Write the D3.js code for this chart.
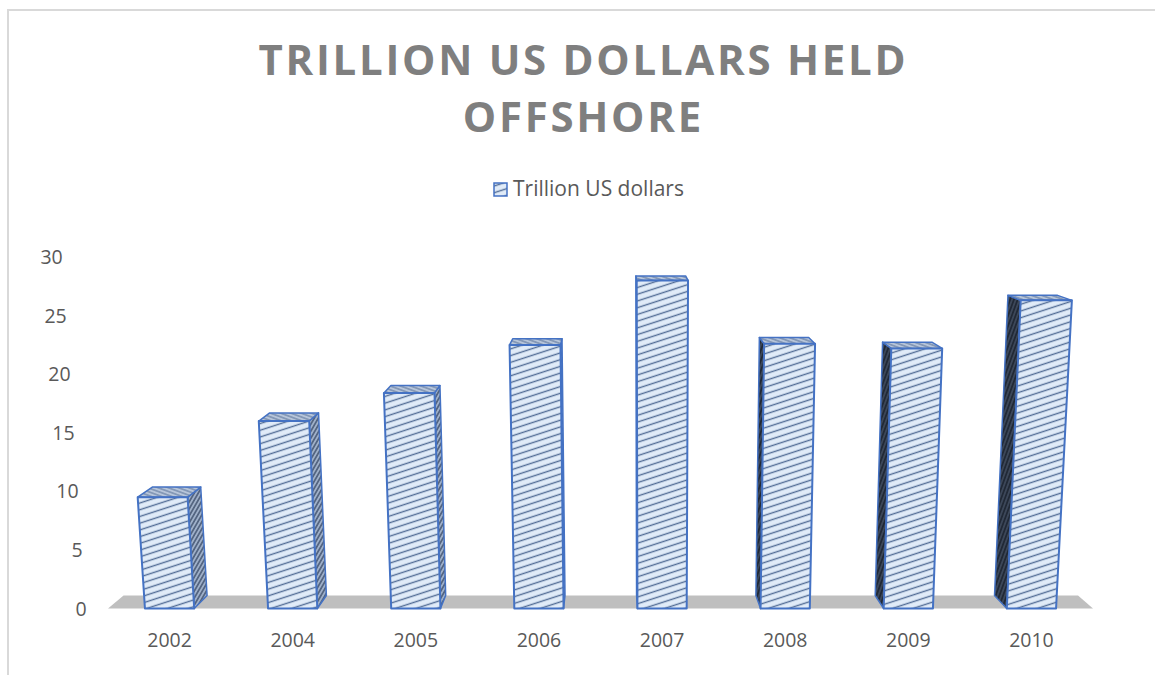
<!DOCTYPE html>
<html><head><meta charset="utf-8">
<script src="https://cdn.jsdelivr.net/npm/d3@7"></script>
<style>body{margin:0;background:#fff} svg{display:block}</style>
</head><body><svg id="c" width="1155" height="675"></svg>
<script>
const categories = ["2002","2004","2005","2006","2007","2008","2009","2010"];
const values = [9.5, 16.0, 18.4, 22.5, 28.0, 22.6, 22.2, 26.3];
const yTicks = [0, 5, 10, 15, 20, 25, 30];
const seriesName = "Trillion US dollars";
const titleLines = ["TRILLION US DOLLARS HELD", "OFFSHORE"];

const svg = d3.select("#c");
const FONT = "'Open Sans', 'DejaVu Sans', sans-serif";

const x = d3.scaleBand().domain(categories).range([108, 1093]).paddingInner(0.6).paddingOuter(0.3);
const y = d3.scaleLinear().domain([0, 30]).range([608.5, 257]);

// simple perspective helpers
const Y0 = 608.5, CX = 655, K = 0.000128, VX = 610, VY = 108, TX = 0.031, TY = 0.026;
function front(px, py) { return [px + (px - CX) * (Y0 - py) * K, py]; }
function back(p) { return [p[0] + TX * (VX - p[0]), p[1] + TY * (VY - p[1])]; }
const poly = pts => "M" + pts.map(p => p[0].toFixed(2) + "," + p[1].toFixed(2)).join("L") + "Z";

// patterns
const defs = svg.append("defs");
function hatch(id, bg, fg, size, sw, angle) {
  const p = defs.append("pattern").attr("id", id).attr("patternUnits", "userSpaceOnUse")
    .attr("width", size).attr("height", size).attr("patternTransform", `rotate(${angle})`);
  p.append("rect").attr("width", size).attr("height", size).attr("fill", bg);
  p.append("line").attr("x1", 0).attr("x2", size).attr("y1", size / 2).attr("y2", size / 2)
    .attr("stroke", fg).attr("stroke-width", sw);
}
hatch("pFront", "#e0ebf8", "#536d96", 6.4, 1.4, -18);
hatch("pSideR", "#9fb0c9", "#4d5e7a", 3.5, 1.6, -60);
hatch("pSideL", "#3c4759", "#1e2632", 3.5, 1.6, -70);
hatch("pTop", "#b7c5da", "#6d83a6", 3.5, 1.2, 20);

// frame
svg.append("rect").attr("x", 8).attr("y", 10).attr("width", 1170).attr("height", 690)
  .attr("fill", "none").attr("stroke", "#d9d9d9").attr("stroke-width", 2);

// title
const title = svg.append("g");
titleLines.forEach((t, i) => {
  title.append("text").attr("x", 582).attr("y", 75 + i * 57).attr("text-anchor", "middle")
    .attr("font-family", FONT).attr("font-weight", 700).attr("font-size", 42)
    .attr("fill", "#7f7f7f").text(t);
});
const first = title.select("text").node();
const baseLen = first.getComputedTextLength();
const ls = (647 - baseLen) / (titleLines[0].length - 1);
title.selectAll("text").attr("letter-spacing", ls).attr("x", 582 + ls / 2);

// legend
svg.append("rect").attr("x", 494).attr("y", 183).attr("width", 13).attr("height", 13)
  .attr("fill", "url(#pFront)").attr("stroke", "#4472c4").attr("stroke-width", 1.5);
svg.append("text").attr("x", 513).attr("y", 196).attr("font-family", FONT).attr("font-size", 21)
  .attr("fill", "#595959").text(seriesName);

// floor
const r0 = x.range()[0], r1 = x.range()[1];
const fl = [front(r0, y(0)), front(r1, y(0))];
svg.append("path").attr("d", poly([fl[0], fl[1], back(fl[1]), back(fl[0])])).attr("fill", "#bfbfbf");

// y axis labels along the back-left edge
svg.append("g").selectAll("text").data(yTicks).join("text")
  .attr("x", d => back(front(r0, y(d)))[0] - 37)
  .attr("y", d => y(d)).attr("dy", "0.36em")
  .attr("text-anchor", "end").attr("font-family", FONT).attr("font-size", 19.5)
  .attr("fill", "#595959").text(d => d);

// bars
const bars = svg.append("g");
categories.forEach((c, i) => {
  const xl = x(c), xr = x(c) + x.bandwidth();
  const yt = y(values[i]), yb = y(0);
  const fbl = front(xl, yb), fbr = front(xr, yb), ftl = front(xl, yt), ftr = front(xr, yt);
  const bbl = back(fbl), bbr = back(fbr), btl = back(ftl), btr = back(ftr);
  const g = bars.append("g").attr("stroke", "#4472c4").attr("stroke-linejoin", "round");
  if (btr[0] > ftr[0] + 0.5) {
    g.append("path").attr("d", poly([fbr, ftr, btr, bbr])).attr("fill", "url(#pSideR)").attr("stroke-width", 1.5);
  }
  if (btl[0] < ftl[0] - 0.5) {
    g.append("path").attr("d", poly([fbl, ftl, btl, bbl])).attr("fill", "url(#pSideL)").attr("stroke-width", 1.5);
  }
  g.append("path").attr("d", poly([ftl, ftr, btr, btl])).attr("fill", "url(#pTop)").attr("stroke-width", 1.5);
  g.append("path").attr("d", poly([fbl, fbr, ftr, ftl])).attr("fill", "url(#pFront)").attr("stroke-width", 2);
});

// x labels
svg.append("g").selectAll("text").data(categories).join("text")
  .attr("x", d => x(d) + x.bandwidth() / 2).attr("y", 647)
  .attr("text-anchor", "middle").attr("font-family", FONT).attr("font-size", 19.5)
  .attr("fill", "#595959").text(d => d);
</script></body></html>
